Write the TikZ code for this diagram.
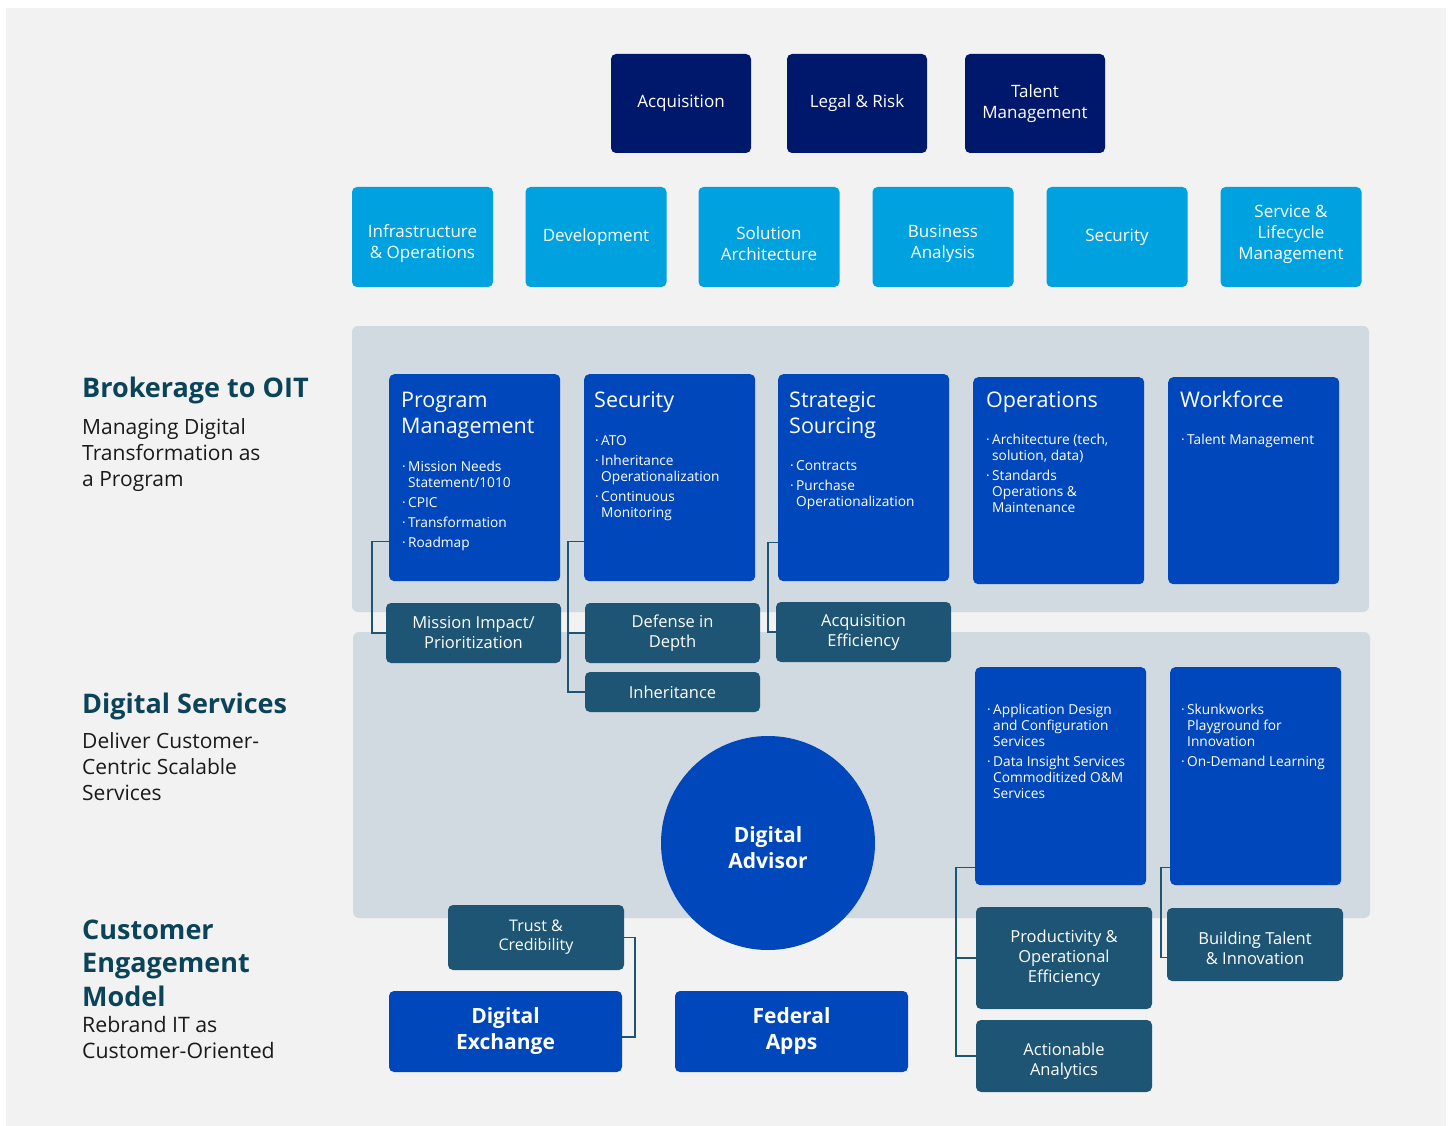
\documentclass[tikz,border=0pt]{standalone}
\usepackage{fontspec}
\setmainfont{Open Sans}
\usepackage{tikz}

\definecolor{canvas}{HTML}{F2F2F2}
\definecolor{panelgray}{HTML}{D0DAE0}
\definecolor{navy}{HTML}{00186C}
\definecolor{sky}{HTML}{00A1DF}
\definecolor{royal}{HTML}{0047BB}
\definecolor{slate}{HTML}{1F5574}
\definecolor{headteal}{HTML}{0B4459}
\definecolor{ink}{HTML}{1A1A1A}

\newcommand{\fs}[2]{\fontsize{#1}{#2}\selectfont}
\newcommand{\bul}{\makebox[6pt][l]{·}}
\newcommand{\ind}{\hspace*{6pt}}

\begin{document}
\begin{tikzpicture}[x=1pt,y=-1pt,
    box/.style={rounded corners=5pt, inner sep=0pt, text=white, align=center},
    office/.style={box, fill=navy, minimum width=140pt, minimum height=99pt, font=\fs{17}{21}},
    skill/.style={box, fill=sky, minimum width=141pt, minimum height=100pt, font=\fs{17}{21}},
    skilltext/.style={text=white, align=center, inner sep=0pt, font=\fs{17}{21}},
    pillar/.style={box, fill=royal, anchor=north west, minimum width=171pt, minimum height=#1},
    pillar/.default=207pt,
    ptitle/.style={anchor=base west, inner sep=0pt, text=white, align=left, font=\fs{21.5}{26}},
    plist/.style={anchor=base west, inner sep=0pt, text=white, align=left, font=\fs{13.7}{16}},
    outcome/.style={box, fill=slate, minimum width=175pt, font=\fs{16.5}{20}},
    outtext/.style={text=white, align=center, inner sep=0pt, font=\fs{16.5}{20}},
    service/.style={box, fill=royal, minimum width=233pt, minimum height=81pt, font=\bfseries\fs{21}{26}},
    link/.style={draw=slate, line width=1.6pt},
    heading/.style={anchor=base west, inner sep=0pt, align=left, text=headteal, font=\bfseries\fs{27}{33.5}},
    blurb/.style={anchor=base west, inner sep=0pt, align=left, text=ink, font=\fs{21}{26}}]

  % page and the two bands
  \useasboundingbox (0,0) rectangle (1452,1126);
  \fill[white] (0,0) rectangle (1452,1126);
  \fill[canvas] (6,8) rectangle (1446,1126);
  \fill[panelgray, rounded corners=6pt] (352,326) rectangle (1369,612);
  \fill[panelgray, rounded corners=6pt] (353,632) rectangle (1370,918);

  % offices
  \node[office] (acqo) at (681,103.5) {Acquisition};
  \node[office] (legal) at (857,103.5) {Legal \& Risk};
  \node[office] (talent) at (1035,103.5) {Talent\\Management};

  % disciplines
  \node[skill, label={[skilltext, yshift=-7pt]center:Infrastructure\\\& Operations}] (infra) at (422.5,237) {};
  \node[skill] (dev) at (596,237) {Development};
  \node[skill, label={[skilltext, yshift=-7pt]center:Solution\\Architecture}] (solarch) at (769,237) {};
  \node[skill, label={[skilltext, yshift=-7pt]center:Business\\Analysis}] (ba) at (943,237) {};
  \node[skill] (secd) at (1117,237) {Security};
  \node[skill, label={[skilltext, yshift=3pt]center:Service \&\\Lifecycle\\Management}] (slm) at (1291,237) {};

  % left column
  \node[heading] (h1) at (82,397) {Brokerage to OIT};
  \node[blurb] (b1) at (82,486) {Managing Digital\\Transformation as\\a Program};
  \node[heading] (h2) at (82,713) {Digital Services};
  \node[blurb] (b2) at (82,800) {Deliver Customer-\\Centric Scalable\\Services};
  \node[heading] (h3) at (82,1006) {Customer\\Engagement\\Model};
  \node[blurb, font=\fs{21.3}{25.5}] (b3) at (82,1058) {Rebrand IT as\\Customer-Oriented};

  % brokerage pillars
  \node[pillar] (pm) at (389,374) {};
  \node[ptitle] at ([shift={(12,59)}]pm.north west) {Program\\Management};
  \node[plist] at ([shift={(13,173)}]pm.north west)
    {\bul Mission Needs\\ \ind Statement/1010\\[4pt] \bul CPIC\\[4pt] \bul Transformation\\[4pt] \bul Roadmap};

  \node[pillar] (sec) at (584,374) {};
  \node[ptitle] at ([shift={(10,33)}]sec.north west) {Security};
  \node[plist] at ([shift={(11,143)}]sec.north west)
    {\bul ATO\\[4pt] \bul Inheritance\\ \ind Operationalization\\[4pt] \bul Continuous\\ \ind Monitoring};

  \node[pillar] (ss) at (778,374) {};
  \node[ptitle] at ([shift={(11,59)}]ss.north west) {Strategic\\Sourcing};
  \node[plist] at ([shift={(12,132)}]ss.north west)
    {\bul Contracts\\[4pt] \bul Purchase\\ \ind Operationalization};

  \node[pillar] (ops) at (973,377) {};
  \node[ptitle] at ([shift={(13,30)}]ops.north west) {Operations};
  \node[plist] at ([shift={(13,135)}]ops.north west)
    {\bul Architecture (tech,\\ \ind solution, data)\\[4pt] \bul Standards\\ \ind Operations \&\\ \ind Maintenance};

  \node[pillar] (wf) at (1168,377) {};
  \node[ptitle] at ([shift={(12,30)}]wf.north west) {Workforce};
  \node[plist] at ([shift={(13,67)}]wf.north west) {\bul Talent Management};

  % digital service pillars
  \node[pillar=218pt] (app) at (975,667) {};
  \node[plist] at ([shift={(12,131)}]app.north west)
    {\bul Application Design\\ \ind and Configuration\\ \ind Services\\[4pt] \bul Data Insight Services\\ \ind Commoditized O\&M\\ \ind Services};

  \node[pillar=218pt] (skunk) at (1170,667) {};
  \node[plist] at ([shift={(11,99)}]skunk.north west)
    {\bul Skunkworks\\ \ind Playground for\\ \ind Innovation\\[4pt] \bul On-Demand Learning};

  % outcomes
  \node[outcome, minimum height=60pt] (mip) at (473.5,633) {Mission Impact/\\Prioritization};
  \node[outcome, minimum height=60pt] (did) at (672.5,633) {Defense in\\Depth};
  \node[outcome, minimum height=40pt] (inh) at (672.5,692) {Inheritance};
  \node[outcome, minimum height=60pt] (acqe) at (863.5,632) {Acquisition\\Efficiency};
  \node[outcome, minimum width=176pt, minimum height=102pt] (poe) at (1064,958) {Productivity \&\\Operational\\Efficiency};
  \node[outcome, minimum width=176pt, minimum height=72pt,
    label={[outtext, yshift=-5pt]center:Actionable\\Analytics}] (aan) at (1064,1056) {};
  \node[outcome, minimum width=176pt, minimum height=73pt,
    label={[outtext, yshift=-3.5pt]center:Building Talent\\\& Innovation}] (bti) at (1255,944.5) {};
  \node[outcome, minimum width=176pt, minimum height=65pt, font=\fs{16}{19}] (tcr) at (536,937.5) {Trust \&\\Credibility};

  % customer engagement
  \node[circle, fill=royal, minimum size=214pt, inner sep=0pt,
    label={[text=white, align=center, yshift=-5pt, font=\bfseries\fs{21}{26}]center:Digital\\Advisor}] (adv) at (768,843) {};
  \node[service] (dex) at (505.5,1031.5) {Digital\\Exchange};
  \node[service] (fap) at (791.5,1031.5) {Federal\\Apps};

  % tie lines
  \draw[link] ([yshift=40pt]pm.south west) -- ++(-17,0) |- (mip.west);
  \draw[link] ([yshift=40pt]sec.south west) -- ++(-16,0) |- (inh.west);
  \draw[link] (did.west) -- ++(-17,0);
  \draw[link] ([yshift=39pt]ss.south west) -- ++(-10,0) |- (acqe.west);
  \draw[link] ([yshift=18pt]app.south west) -- ++(-19,0) |- (aan.west);
  \draw[link] (poe.west) -- ++(-20,0);
  \draw[link] ([yshift=18pt]skunk.south west) -- ++(-9,0) |- ([yshift=-13pt]bti.west);
  \draw[link] (tcr.east) -- ++(11,0) |- ([yshift=-5.5pt]dex.east);
\end{tikzpicture}
\end{document}
